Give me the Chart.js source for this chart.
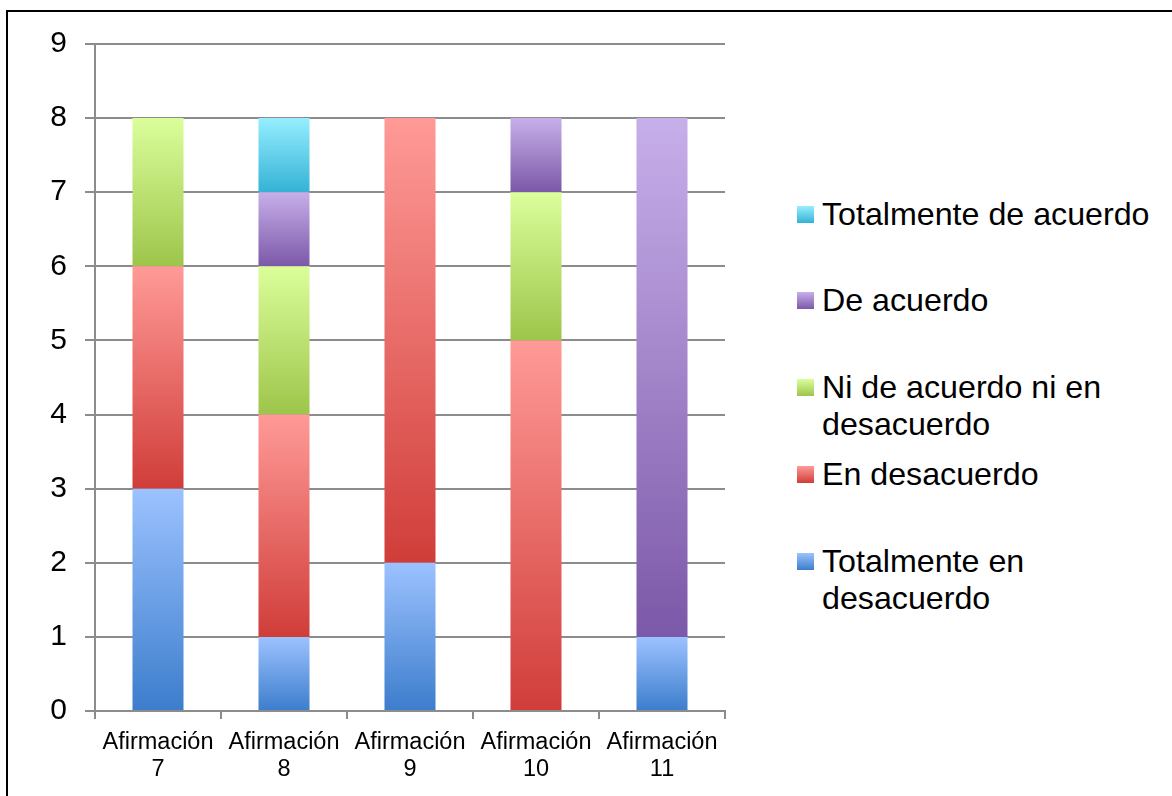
<!DOCTYPE html>
<html>
<head>
<meta charset="utf-8">
<script src="https://cdn.jsdelivr.net/npm/chart.js@4"></script>
<style>
  body { margin: 0; background: #fff; width: 1172px; height: 796px; overflow: hidden; position: relative; font-family: Arial, "Liberation Sans", sans-serif; }
  #marco { position: absolute; left: 6px; top: 10px; width: 1200px; height: 820px; border: 2px solid #000; box-sizing: border-box; }
  #grafico { position: absolute; left: 0; top: 0; }
  .item { position: absolute; left: 797px; font-size: 32.2px; line-height: 37px; color: #000; }
  .item span.caja { position: absolute; left: 0; top: 10px; width: 17px; height: 17px; }
  .item span.texto { position: absolute; left: 25px; top: 0; white-space: nowrap; }
</style>
</head>
<body>
<div id="marco"></div>
<canvas id="grafico" width="740" height="796"></canvas>
<div id="leyenda"></div>
<script>
const categorias = [["Afirmación", "7"], ["Afirmación", "8"], ["Afirmación", "9"], ["Afirmación", "10"], ["Afirmación", "11"]];
const totalmenteEnDesacuerdo = [3, 1, 2, 0, 1];
const enDesacuerdo = [3, 3, 6, 5, 0];
const niDeAcuerdo = [2, 2, 0, 2, 0];
const deAcuerdo = [0, 1, 0, 1, 7];
const totalmenteDeAcuerdo = [0, 1, 0, 0, 0];
const yMax = 9;

// claro arriba, oscuro abajo
const series = [
  { label: "Totalmente en desacuerdo", lineas: ["Totalmente en", "desacuerdo"], data: totalmenteEnDesacuerdo, top: "#9cc2ff", bottom: "#3c7dcc" },
  { label: "En desacuerdo", lineas: ["En desacuerdo"], data: enDesacuerdo, top: "#ff9a97", bottom: "#d03d39" },
  { label: "Ni de acuerdo ni en desacuerdo", lineas: ["Ni de acuerdo ni en", "desacuerdo"], data: niDeAcuerdo, top: "#dbfe9b", bottom: "#9dc54a" },
  { label: "De acuerdo", lineas: ["De acuerdo"], data: deAcuerdo, top: "#c7afea", bottom: "#7c58a8" },
  { label: "Totalmente de acuerdo", lineas: ["Totalmente de acuerdo"], data: totalmenteDeAcuerdo, top: "#96eeff", bottom: "#34b2d5" },
];

function gradienteSegmento(serie, d) {
  return function (context) {
    const chart = context.chart;
    const y = chart.scales.y;
    if (!chart.chartArea || !y) return serie.top;
    const i = context.dataIndex;
    let base = 0;
    for (let k = 0; k < d; k++) base += series[k].data[i];
    const valor = serie.data[i];
    const yBase = y.getPixelForValue(base);
    const yTope = y.getPixelForValue(base + valor);
    if (!isFinite(yBase) || !isFinite(yTope) || yBase === yTope) return serie.top;
    const g = chart.ctx.createLinearGradient(0, yBase, 0, yTope);
    g.addColorStop(0, serie.bottom);
    g.addColorStop(1, serie.top);
    return g;
  };
}

const fuente = 'Arial, "Liberation Sans", sans-serif';

new Chart(document.getElementById("grafico"), {
  type: "bar",
  data: {
    labels: categorias,
    datasets: series.map((s, d) => ({
      label: s.label,
      data: s.data,
      backgroundColor: gradienteSegmento(s, d),
      borderWidth: 0,
      barPercentage: 0.405,
      categoryPercentage: 1,
    })),
  },
  options: {
    responsive: false,
    animation: false,
    layout: { padding: { top: 44, left: 0, right: 15, bottom: 0 } },
    plugins: { legend: { display: false }, tooltip: { enabled: false } },
    scales: {
      x: {
        stacked: true,
        afterFit: (s) => { s.height = 85; },
        grid: { offset: true, drawOnChartArea: false, drawTicks: true, tickLength: 8, color: "#8c8c8c", lineWidth: 2 },
        border: { display: true, color: "#8c8c8c", width: 2 },
        ticks: { color: "#000", padding: 10, font: { family: fuente, size: 23.5, lineHeight: 1.16 }, maxRotation: 0 },
      },
      y: {
        stacked: true,
        min: 0,
        max: yMax,
        afterFit: (s) => { s.width = 95; },
        grid: { color: "#8c8c8c", lineWidth: 2, tickLength: 10 },
        border: { display: true, color: "#8c8c8c", width: 2 },
        ticks: { stepSize: 1, color: "#000", padding: 18, font: { family: fuente, size: 30 } },
      },
    },
  },
});

// leyenda en HTML, en el mismo orden que la imagen (de arriba hacia abajo)
const leyenda = document.getElementById("leyenda");
series.slice().reverse().forEach((s, i) => {
  const item = document.createElement("div");
  item.className = "item";
  item.style.top = (195.6 + i * 86.75) + "px";
  const caja = document.createElement("span");
  caja.className = "caja";
  caja.style.background = `linear-gradient(to bottom, ${s.top}, ${s.bottom})`;
  const texto = document.createElement("span");
  texto.className = "texto";
  texto.innerHTML = s.lineas.join("<br>");
  item.appendChild(caja);
  item.appendChild(texto);
  leyenda.appendChild(item);
});
</script>
</body>
</html>
